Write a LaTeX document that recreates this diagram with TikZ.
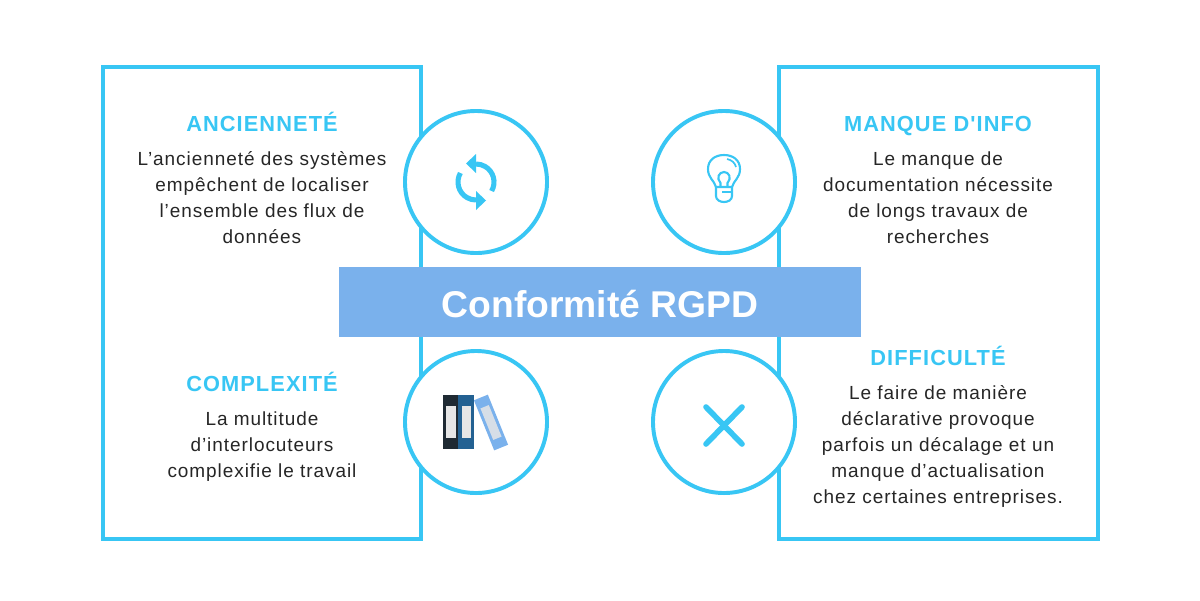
\documentclass[tikz,border=0pt]{standalone}
\usepackage{fontspec}
\usetikzlibrary{positioning}
\setmainfont{Liberation Sans}
\newfontfamily\headfont[LetterSpace=5]{Liberation Sans}
\newfontfamily\bodyfont[LetterSpace=5]{Liberation Sans}
\definecolor{skyline}{HTML}{38C6F4}
\definecolor{banner}{HTML}{7AB1EC}
\definecolor{folderdark}{HTML}{1F2A33}
\definecolor{folderblue}{HTML}{236192}
\definecolor{folderlabel}{HTML}{E6E6E6}
\tikzset{
  panel/.style={draw=skyline,line width=2.8pt,fill=white},
  badge/.style={circle,draw=skyline,line width=2.8pt,fill=white,minimum size=3.55cm,inner sep=0pt},
  heading/.style={text=skyline,font=\headfont\fontsize{15.5}{18}\selectfont\bfseries,text height=14pt,text depth=0pt},
  body/.style={text=black!85,font=\bodyfont\fontsize{13.5}{18.4}\selectfont,align=center},
  px/.style={x=0.025cm,y=-0.025cm}
}
\begin{document}
\begin{tikzpicture}[px]
    \useasboundingbox (0,0) rectangle (1200,600);
    \fill[white] (0,0) rectangle (1200,600);
    % side panels
    \draw[panel] (103,67) rectangle (421,539);
    \draw[panel] (779,67) rectangle (1098,539);
    % round badges
    \node[badge] (oldbadge) at (476,182) {};
    \node[badge] (infobadge) at (724,182) {};
    \node[badge] (filebadge) at (476,422) {};
    \node[badge] (crossbadge) at (724,422) {};
    % banner
    \node[fill=banner,text=white,minimum width=13.05cm,minimum height=1.75cm,inner sep=0pt,
        text height=24pt,text depth=2pt,
        font=\fontsize{26.5}{30}\selectfont\bfseries] (title) at (600,302) {Conformité RGPD};
    % headings and their texts
    \node[heading] (oldhead) at (262,122) {ANCIENNETÉ};
    \node[body,below=0.25cm of oldhead] (oldtext) {L’ancienneté des systèmes\\empêchent de localiser\\l’ensemble des flux de\\données};
    \node[heading] (infohead) at (938,122) {MANQUE D'INFO};
    \node[body,below=0.25cm of infohead] (infotext) {Le manque de\\documentation nécessite\\de longs travaux de\\recherches};
    \node[heading] (filehead) at (262,382) {COMPLEXITÉ};
    \node[body,below=0.25cm of filehead] (filetext) {La multitude\\d’interlocuteurs\\complexifie le travail};
    \node[heading] (crosshead) at (938,356) {DIFFICULTÉ};
    \node[body,below=0.25cm of crosshead] (crosstext) {Le faire de manière\\déclarative provoque\\parfois un décalage et un\\manque d’actualisation\\chez certaines entreprises.};
    % refresh icon
    \draw[skyline,line width=3.6pt] (491.6,191) arc (30:-90:18);
    \draw[skyline,line width=3.6pt] (460.4,173) arc (210:90:18);
    \fill[skyline] (466,163.5) -- (476,154) -- (476,173) -- cycle;
    \fill[skyline] (486,200.5) -- (476,210) -- (476,191) -- cycle;
    % bulb icon
    \draw[skyline,line width=1.5pt,line join=round] (716,187) .. controls (714,180) and (708,178) .. (708,169)
        .. controls (708,160) and (715,155) .. (724,155) .. controls (733,155) and (740,160) .. (740,169)
        .. controls (740,178) and (734,180) .. (732,187) -- cycle;
    \draw[skyline,line width=1.5pt] (716,187) -- (716,196) .. controls (716,200) and (720,202) .. (724,202)
        .. controls (728,202) and (732,200) .. (732,196) -- (732,187);
    \draw[skyline,line width=1.5pt] (720.5,187) -- (720.5,183) .. controls (716,178) and (719,172) .. (724,172)
        .. controls (729,172) and (732,178) .. (727.5,183) -- (727.5,187);
    \draw[skyline,line width=1.8pt] (722,192) -- (732,192);
    \draw[skyline,line width=1.2pt] (727,159) .. controls (732,160) and (735,163) .. (736,167);
    % folders icon
    \fill[folderdark] (443,395) rectangle (458,449);
    \fill[folderblue] (458,395) rectangle (474,449);
    \fill[folderlabel] (446,406) rectangle (456,438);
    \fill[folderlabel] (462,406) rectangle (471,438);
    \begin{scope}[shift={(491,422.5)},rotate=22]
        \fill[banner] (-7.5,-27) rectangle (7.5,27);
        \fill[folderlabel!85!banner] (-4.5,-17) rectangle (4.5,17);
    \end{scope}
    % cross icon
    \draw[skyline,line width=4pt,line cap=round] (706,407) -- (742,444);
    \draw[skyline,line width=4pt,line cap=round] (742,407) -- (706,444);
\end{tikzpicture}
\end{document}
